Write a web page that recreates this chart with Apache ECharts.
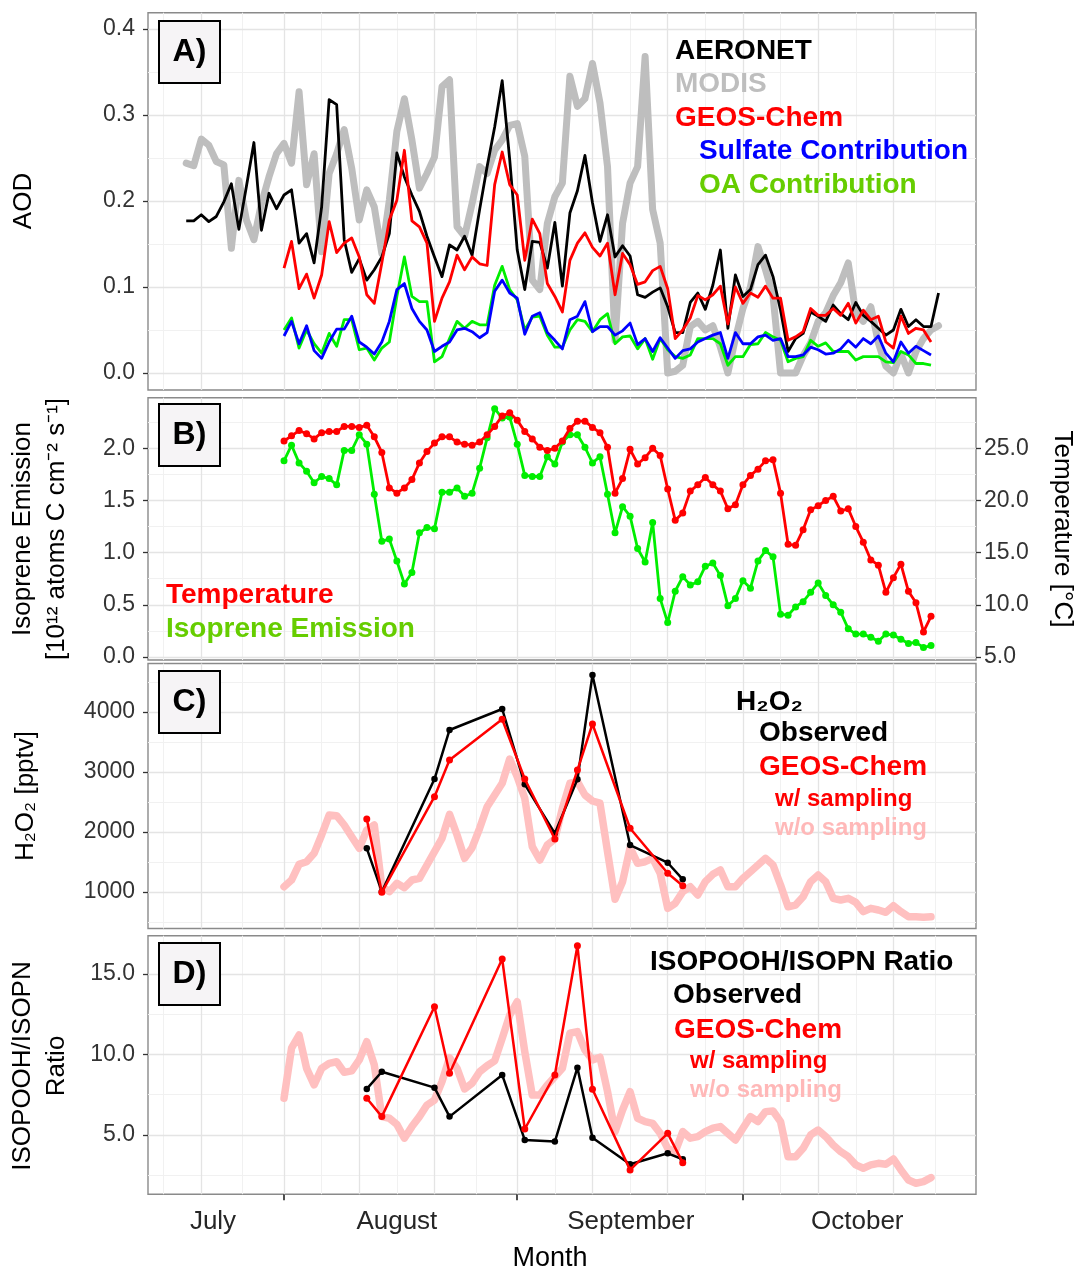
<!DOCTYPE html>
<html><head><meta charset="utf-8">
<script src="https://cdn.jsdelivr.net/npm/echarts@6/dist/echarts.min.js"></script>
<style>html,body{margin:0;padding:0;background:#fff}#c{width:1077px;height:1272px}</style>
</head><body><div id="c"></div>
<script>
// x = days since 1 July (Aug 1 = 31, Sep 1 = 62, Oct 1 = 92)
const monthNames = ['July', 'August', 'September', 'October'];
const monthLabelDays = [21.56, 46.0, 77.1, 107.2];
const monthTickDays = [31, 62, 92];

// Panel A: AOD
const aodStartDay = 18;
const aeronet = [0.177,0.177,0.184,0.176,0.182,0.199,0.220,0.167,0.217,0.268,
 0.166,0.209,0.191,0.207,0.213,0.151,0.162,0.128,0.193,0.318,
 0.312,0.155,0.117,0.133,0.108,0.120,0.135,0.162,0.256,0.228,
 0.207,0.188,0.159,0.135,0.112,0.149,0.143,0.159,0.137,0.190,
 0.240,0.286,0.340,0.248,0.143,0.097,0.153,0.152,0.122,0.175,
 0.101,0.186,0.212,0.253,0.198,0.153,0.184,0.135,0.148,0.136,
 0.091,0.088,0.094,0.099,0.077,0.047,0.047,0.082,0.093,0.074,
 0.102,0.143,0.052,0.114,0.089,0.097,0.126,0.137,0.112,0.073,
 0.025,0.040,0.046,0.071,0.066,0.060,0.079,0.069,0.062,0.082,
 0.067,0.060,0.052,0.044,0.050,0.074,0.054,0.062,0.054,0.054,
 0.093];
const modis = [0.244,0.241,0.272,0.265,0.246,0.242,0.145,0.224,0.178,0.155,
 0.197,0.228,0.255,0.267,0.244,0.327,0.219,0.255,0.141,0.232,
 0.255,0.283,0.238,0.178,0.213,0.193,0.139,0.201,0.281,0.319,
 0.271,0.215,0.232,0.251,0.333,0.341,0.170,0.159,0.197,0.240,
 0.232,0.259,0.271,0.288,0.290,0.252,0.108,0.097,0.174,0.205,
 0.221,0.345,0.310,0.319,0.360,0.314,0.240,0.038,0.174,0.221,
 0.240,0.368,0.190,0.151,0.000,0.002,0.009,0.054,0.060,0.050,
 0.055,0.030,0.000,0.040,0.075,0.100,0.147,0.120,0.090,0.000,
 0.000,0.000,0.020,0.035,0.060,0.070,0.090,0.105,0.128,0.070,
 0.060,0.077,0.035,0.008,0.000,0.022,0.000,0.025,0.040,0.050,
 0.055];
const modelStartDay = 31;
const geosChemAOD = [0.122,0.153,0.098,0.115,0.087,0.114,0.176,0.140,0.151,0.157,
 0.135,0.091,0.081,0.128,0.178,0.201,0.259,0.177,0.170,0.151,
 0.060,0.087,0.106,0.137,0.120,0.135,0.127,0.125,0.219,0.257,
 0.219,0.207,0.131,0.179,0.162,0.104,0.089,0.071,0.131,0.151,
 0.163,0.146,0.136,0.151,0.091,0.139,0.126,0.103,0.106,0.119,
 0.124,0.098,0.040,0.050,0.064,0.090,0.085,0.091,0.101,0.057,
 0.100,0.081,0.093,0.088,0.101,0.087,0.087,0.038,0.042,0.048,
 0.075,0.067,0.067,0.075,0.067,0.081,0.058,0.073,0.062,0.066,
 0.036,0.029,0.066,0.046,0.052,0.050,0.036];
const sulfateAOD = [0.043,0.060,0.034,0.055,0.026,0.017,0.036,0.051,0.051,0.066,
 0.036,0.030,0.022,0.036,0.060,0.097,0.104,0.075,0.060,0.050,
 0.025,0.031,0.036,0.050,0.052,0.048,0.041,0.047,0.095,0.108,
 0.093,0.087,0.045,0.066,0.070,0.047,0.038,0.028,0.062,0.066,
 0.083,0.048,0.054,0.054,0.044,0.049,0.058,0.033,0.040,0.025,
 0.041,0.029,0.017,0.026,0.028,0.036,0.040,0.044,0.047,0.017,
 0.047,0.034,0.034,0.042,0.044,0.038,0.040,0.019,0.019,0.021,
 0.030,0.027,0.022,0.023,0.028,0.038,0.030,0.040,0.034,0.043,
 0.023,0.013,0.036,0.023,0.031,0.026,0.021];
const oaAOD = [0.050,0.064,0.029,0.050,0.034,0.023,0.046,0.031,0.062,0.062,
 0.027,0.029,0.015,0.029,0.036,0.089,0.135,0.089,0.083,0.083,
 0.013,0.019,0.040,0.060,0.052,0.060,0.056,0.056,0.102,0.124,
 0.097,0.085,0.050,0.065,0.066,0.044,0.030,0.030,0.050,0.062,
 0.060,0.048,0.062,0.069,0.034,0.042,0.043,0.028,0.040,0.016,
 0.040,0.027,0.019,0.017,0.021,0.040,0.040,0.040,0.034,0.009,
 0.019,0.019,0.033,0.034,0.047,0.042,0.038,0.013,0.017,0.019,
 0.038,0.031,0.035,0.025,0.025,0.025,0.015,0.019,0.019,0.019,
 0.013,0.012,0.025,0.021,0.011,0.011,0.009];

// Panel B
const temperature = [25.7,26.2,26.7,26.4,25.9,26.5,26.6,26.6,27.1,27.1,
 27.0,27.2,26.1,24.6,21.2,20.7,21.2,22.0,23.6,24.7,
 25.5,26.1,26.1,25.6,25.4,25.3,25.6,26.3,27.1,28.1,
 28.4,27.7,26.6,25.9,25.1,24.8,25.0,25.7,26.9,27.6,
 27.6,27.0,26.5,25.1,20.7,22.1,24.9,23.5,24.1,25.0,
 24.3,21.1,18.1,18.8,20.9,21.5,22.2,21.5,20.9,19.2,
 19.6,21.5,22.4,23.0,23.8,23.9,20.7,15.8,15.7,17.2,
 19.1,19.5,20.0,20.4,19.0,19.2,17.5,16.0,14.3,13.8,
 11.2,12.6,13.9,11.3,10.2,7.4,8.9];
const isoprene = [1.88,2.03,1.86,1.78,1.67,1.73,1.71,1.65,1.98,1.98,
 2.13,2.04,1.56,1.11,1.13,0.92,0.70,0.81,1.19,1.24,
 1.23,1.58,1.58,1.62,1.54,1.57,1.81,2.10,2.38,2.29,
 2.30,2.04,1.74,1.73,1.73,1.92,1.85,2.06,2.13,2.13,
 2.01,1.86,1.92,1.56,1.19,1.44,1.35,1.04,0.91,1.29,
 0.56,0.33,0.63,0.77,0.69,0.72,0.87,0.90,0.78,0.49,
 0.56,0.73,0.66,0.92,1.02,0.96,0.41,0.40,0.48,0.53,
 0.62,0.71,0.59,0.50,0.43,0.27,0.22,0.22,0.19,0.15,
 0.22,0.21,0.17,0.13,0.14,0.09,0.11];

// Panels C, D
const obsDays = [42,44,51,53,60,63,67,70,72,77,82,84];
const h2o2Obs = [1728,1005,2883,3700,4050,2795,1978,2878,4617,1783,1488,1212];
const h2o2Model = [2217,995,2588,3200,3878,2883,1883,3033,3800,2062,1312,1105];
const h2o2NoSampling = [1088,1200,1462,1505,1645,1950,2283,2272,2117,1922,
 1728,2033,2117,1088,1005,1145,1072,1200,1228,1450,
 1672,1895,2295,1950,1562,1738,2062,2422,2617,2812,
 3217,2922,2562,1755,1533,1783,1883,2395,2812,2838,
 2617,2517,2480,1672,880,1172,1738,1478,1505,1562,
 1312,728,812,1005,1088,950,1172,1295,1367,1088,
 1088,1228,1338,1450,1562,1450,1117,755,783,922,
 1172,1283,1172,895,867,895,828,672,728,700,
 662,772,672,588,588,578,588];
const ratioObs = [7.86,8.93,7.94,6.14,8.73,4.69,4.59,9.18,4.83,3.18,3.86,3.49];
const ratioModel = [7.28,6.14,12.97,8.83,15.93,5.37,8.73,16.76,7.84,2.83,5.10,3.28];
const ratioNoSampling = [7.28,10.39,11.21,9.14,8.11,9.14,9.45,9.55,8.89,8.98,
 9.66,10.80,9.35,6.14,6.04,5.66,4.80,5.52,6.14,6.86,
 7.17,8.31,9.80,9.14,7.86,8.21,8.93,9.30,9.60,11.0,
 12.45,13.28,10.18,7.48,7.48,8.11,8.62,9.14,11.32,11.42,
 10.28,9.66,9.83,7.7,5.2,6.55,7.69,6.04,5.83,5.72,
 5.10,4.17,3.96,5.21,4.80,4.90,5.21,5.42,5.52,5.10,
 4.69,5.42,6.14,5.83,6.45,6.49,5.83,3.65,3.65,4.17,
 5.0,5.31,4.90,4.38,3.96,3.65,3.14,2.93,3.14,3.24,
 3.18,3.51,2.83,2.20,2.0,2.10,2.35];

// Axis tick values
const aodTicks = [0, 0.1, 0.2, 0.3, 0.4];
const isoTicks = [0, 0.5, 1.0, 1.5, 2.0];
const tempTicks = [5, 10, 15, 20, 25];
const h2o2Ticks = [1000, 2000, 3000, 4000];
const ratioTicks = [5, 10, 15];

// ---------------------------------------------------------------
const FONT = '"Liberation Sans", Arial, Helvetica, sans-serif';
const X_MIN = 12.92, X_MAX = 122.98;
const xMajor = [20, 31, 41, 51, 62, 72, 82, 92, 102, 112];
const xMinor = [15, 25.5, 36, 46, 56.5, 67, 77, 87, 97, 107, 117.5];
const majorStyle = {color: '#e4e4e4', width: 1.3, type: 'solid'};
const minorStyle = {color: '#f1f1f1', width: 1, type: 'solid'};

const seq = (start, arr) => arr.map((v, i) => [start + i, v]);
const pts = (days, arr) => arr.map((v, i) => [days[i], v]);
const monthName = v => { const i = monthLabelDays.findIndex(d => Math.abs(d - v) < 1e-6); return i >= 0 ? monthNames[i] : ''; };

const grids = [
  {left: 148, top: 12.7, width: 828, height: 377.3},
  {left: 148, top: 397.7, width: 828, height: 262.3},
  {left: 148, top: 663.5, width: 828, height: 265},
  {left: 148, top: 935.7, width: 828, height: 258.5}
].map(g => Object.assign(g, {show: true, borderColor: '#8a8a8a', borderWidth: 1.4, backgroundColor: '#fff'}));

const xAxes = grids.map((g, i) => ({
  type: 'value', gridIndex: i, min: X_MIN, max: X_MAX,
  axisLine: {show: false}, splitLine: {show: false},
  axisTick: i === 3 ? {show: true, customValues: monthTickDays, length: 6, lineStyle: {color: '#222', width: 1.6}} : {show: false},
  axisLabel: i === 3 ? {show: true, customValues: monthLabelDays, formatter: monthName, fontSize: 26, color: '#262626', margin: 15, fontFamily: FONT} : {show: false}
}));

function yAx(gi, min, max, ticks, digits, pos) {
  return {
    type: 'value', gridIndex: gi, min, max, position: pos || 'left',
    axisLine: {show: false}, splitLine: {show: false},
    axisTick: {show: true, customValues: ticks, length: 5, lineStyle: {color: '#333', width: 1.3}},
    axisLabel: {show: true, customValues: ticks, formatter: v => v.toFixed(digits), fontSize: 23, color: '#333', margin: pos === 'right' ? 8 : 13, fontFamily: FONT}
  };
}
const yAxes = [
  yAx(0, -0.0198, 0.419, aodTicks, 1),
  yAx(1, -0.0288, 2.485, isoTicks, 1),
  yAx(1, 4.712, 29.85, tempTicks, 1, 'right'),
  yAx(2, 392, 4808, h2o2Ticks, 0),
  yAx(3, 1.32, 17.38, ratioTicks, 1)
];

function gridSeries(gi, yi, yMaj, yMin) {
  const ml = [];
  xMinor.forEach(d => ml.push({xAxis: d, lineStyle: minorStyle}));
  yMin.forEach(v => ml.push({yAxis: v, lineStyle: minorStyle}));
  xMajor.forEach(d => ml.push({xAxis: d, lineStyle: majorStyle}));
  yMaj.forEach(v => ml.push({yAxis: v, lineStyle: majorStyle}));
  return {type: 'line', xAxisIndex: gi, yAxisIndex: yi, data: [], z: 1, silent: true,
    markLine: {z: 1, silent: true, symbol: ['none', 'none'], label: {show: false}, animation: false, emphasis: {disabled: true}, data: ml}};
}
function ln(gi, yi, data, color, width, z, dots, dotSize) {
  return {type: 'line', xAxisIndex: gi, yAxisIndex: yi, data, z: z + 5,
    symbol: dots ? 'circle' : 'none', showSymbol: !!dots, showAllSymbol: true, symbolSize: dotSize || 6.5,
    itemStyle: {color}, lineStyle: {color, width, join: 'round', cap: width > 4 ? 'round' : 'butt'},
    emphasis: {disabled: true}, silent: true, animation: false};
}

const series = [
  gridSeries(0, 0, aodTicks, [0.05, 0.15, 0.25, 0.35]),
  gridSeries(1, 1, isoTicks, [0.25, 0.75, 1.25, 1.75, 2.25]),
  gridSeries(2, 3, h2o2Ticks, [500, 1500, 2500, 3500, 4500]),
  gridSeries(3, 4, ratioTicks, [2.5, 7.5, 12.5]),
  ln(0, 0, seq(aodStartDay, modis), '#bebebe', 7, 2),
  ln(0, 0, seq(aodStartDay, aeronet), '#000000', 2.8, 3),
  ln(0, 0, seq(modelStartDay, geosChemAOD), '#ff0000', 2.8, 4),
  ln(0, 0, seq(modelStartDay, oaAOD), '#00ee00', 2.8, 5),
  ln(0, 0, seq(modelStartDay, sulfateAOD), '#0000ff', 2.8, 6),
  ln(1, 1, seq(modelStartDay, isoprene), '#00ee00', 2.8, 3, true, 7),
  ln(1, 2, seq(modelStartDay, temperature), '#ff0000', 2.8, 4, true, 7),
  ln(2, 3, seq(modelStartDay, h2o2NoSampling), '#ffc0c0', 7.5, 2),
  ln(2, 3, pts(obsDays, h2o2Obs), '#000000', 2.5, 3, true, 6.5),
  ln(2, 3, pts(obsDays, h2o2Model), '#ff0000', 2.5, 4, true, 7),
  ln(3, 4, seq(modelStartDay, ratioNoSampling), '#ffc0c0', 7.5, 2),
  ln(3, 4, pts(obsDays, ratioObs), '#000000', 2.5, 3, true, 6.5),
  ln(3, 4, pts(obsDays, ratioModel), '#ff0000', 2.5, 4, true, 7)
];

// ---------------- text elements ----------------
const els = [];
function txt(text, x, y, color, size, bold, opt) {
  els.push(Object.assign({type: 'text', x, y, z: 100, silent: true,
    style: {text, fill: color, fontSize: size, fontWeight: bold ? 'bold' : 'normal', fontFamily: FONT,
      align: 'left', verticalAlign: 'middle'}}, opt || {}));
}
function ctxt(text, x, y, size, rot) {
  els.push({type: 'text', x, y, rotation: rot || 0, z: 100, silent: true,
    style: {text, fill: '#000', fontSize: size, fontFamily: FONT, align: 'center', verticalAlign: 'middle', lineHeight: 34}});
}
function box(label, top) {
  els.push({type: 'rect', z: 99, silent: true, shape: {x: 159, y: top, width: 61, height: 62},
    style: {fill: '#f6f4f6', stroke: '#000', lineWidth: 2}});
  els.push({type: 'text', z: 100, silent: true, x: 189.5, y: top + 31,
    style: {text: label, fill: '#000', fontSize: 32, fontWeight: 'bold', fontFamily: FONT, align: 'center', verticalAlign: 'middle'}});
}
box('A)', 21); box('B)', 404); box('C)', 671); box('D)', 943);

// legends
txt('AERONET', 675, 51, '#000000', 28, true);
txt('MODIS', 675, 84, '#bebebe', 28, true);
txt('GEOS-Chem', 675, 118, '#ff0000', 28, true);
txt('Sulfate Contribution', 699, 151, '#0000ff', 28, true);
txt('OA Contribution', 699, 185, '#66cd00', 28, true);

txt('Temperature', 166, 595, '#ff0000', 28, true);
txt('Isoprene Emission', 166, 629, '#66cd00', 28, true);

txt('H\u2082O\u2082', 736, 702, '#000000', 28, true);
txt('Observed', 759, 733, '#000000', 28, true);
txt('GEOS-Chem', 759, 767, '#ff0000', 28, true);
txt('w/ sampling', 775, 799, '#ff0000', 24, true);
txt('w/o sampling', 775, 828, '#ffb8b8', 24, true);

txt('ISOPOOH/ISOPN Ratio', 650, 962, '#000000', 28, true);
txt('Observed', 673, 995, '#000000', 28, true);
txt('GEOS-Chem', 674, 1030, '#ff0000', 28, true);
txt('w/ sampling', 690, 1061, '#ff0000', 24, true);
txt('w/o sampling', 690, 1090, '#ffb8b8', 24, true);

// axis titles
ctxt('AOD', 24, 201, 26, Math.PI / 2);
ctxt('Isoprene Emission\n[10\u00b9\u00b2 atoms C cm\u207b\u00b2 s\u207b\u00b9]', 40, 529, 26, Math.PI / 2);
ctxt('H\u2082O\u2082 [pptv]', 26, 796, 26, Math.PI / 2);
ctxt('ISOPOOH/ISOPN\nRatio', 40, 1066, 26, Math.PI / 2);
ctxt('Temperature [\u00b0C]', 1062, 529, 26, -Math.PI / 2);
ctxt('Month', 550, 1259, 27, 0);

const chart = echarts.init(document.getElementById('c'), null, {renderer: 'canvas'});
chart.setOption({
  animation: false,
  backgroundColor: '#ffffff',
  grid: grids, xAxis: xAxes, yAxis: yAxes, series,
  graphic: {elements: els}
});
</script>
</body></html>
